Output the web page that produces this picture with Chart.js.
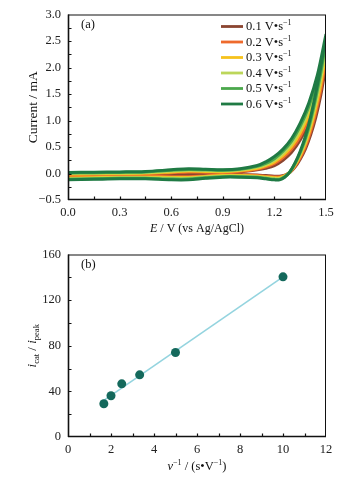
<!DOCTYPE html>
<html>
<head>
<meta charset="utf-8">
<script src="https://cdn.jsdelivr.net/npm/chart.js@4"></script>
<style>
html,body{margin:0;padding:0;background:#fff;}
canvas{display:block;}
</style>
</head>
<body>
<canvas id="cv" width="359" height="240"></canvas>
<canvas id="fit" width="359" height="242"></canvas>
<script>
// ---------- Panel (a): cyclic voltammograms ----------
const scanRates = ['0.1', '0.2', '0.3', '0.4', '0.5', '0.6'];
const cvColors = ['#8b4530', '#ee6a2c', '#f6c21c', '#bcd65a', '#4ba84c', '#1f7a44'];
const E_fwd = [0, 0.15, 0.3, 0.45, 0.6, 0.7, 0.8, 0.9, 1.0, 1.1, 1.15, 1.2, 1.25, 1.3, 1.35, 1.4, 1.45, 1.5];
const E_rev = [1.5, 1.47, 1.44, 1.41, 1.38, 1.35, 1.32, 1.29, 1.26, 1.23, 1.2, 1.15, 1.1, 1.0, 0.9, 0.8, 0.7, 0.6, 0.45, 0.3, 0.15, 0];

const fwd_01 = [-0.03,-0.025,-0.02,-0.01,0.00,0.01,0.01,0.01,0.03,0.07,0.10,0.15,0.25,0.40,0.63,0.95,1.40,2.05];
const fwd_02 = [-0.02,-0.015,-0.01,0.00,0.015,0.03,0.025,0.02,0.04,0.085,0.125,0.19,0.30,0.46,0.70,1.04,1.51,2.18];
const fwd_03 = [-0.01,-0.005,0.00,0.01,0.03,0.045,0.04,0.035,0.055,0.10,0.15,0.22,0.34,0.51,0.77,1.12,1.60,2.30];
const fwd_04 = [0.00,0.005,0.01,0.02,0.045,0.06,0.055,0.05,0.065,0.12,0.17,0.25,0.38,0.56,0.83,1.20,1.69,2.40];
const fwd_05 = [0.01,0.015,0.02,0.03,0.06,0.075,0.07,0.06,0.08,0.135,0.19,0.28,0.42,0.61,0.89,1.26,1.77,2.50];
const fwd_06 = [0.02,0.025,0.03,0.04,0.07,0.09,0.08,0.07,0.09,0.15,0.22,0.32,0.46,0.66,0.95,1.33,1.86,2.62];

const rev_01 = [2.05,1.48,1.05,0.72,0.46,0.27,0.12,0.02,-0.03,-0.05,-0.05,-0.04,-0.03,-0.02,-0.02,-0.03,-0.04,-0.04,-0.04,-0.05,-0.05,-0.06];
const rev_02 = [2.18,1.59,1.15,0.79,0.51,0.30,0.14,0.025,-0.04,-0.065,-0.065,-0.055,-0.04,-0.03,-0.03,-0.045,-0.06,-0.06,-0.055,-0.06,-0.065,-0.075];
const rev_03 = [2.30,1.70,1.24,0.86,0.56,0.34,0.16,0.03,-0.045,-0.08,-0.08,-0.065,-0.05,-0.04,-0.04,-0.055,-0.075,-0.075,-0.07,-0.07,-0.08,-0.09];
const rev_04 = [2.40,1.80,1.33,0.93,0.61,0.37,0.175,0.03,-0.055,-0.095,-0.095,-0.08,-0.06,-0.05,-0.05,-0.065,-0.09,-0.09,-0.08,-0.08,-0.09,-0.10];
const rev_05 = [2.50,1.90,1.42,0.99,0.65,0.395,0.19,0.03,-0.06,-0.11,-0.11,-0.09,-0.07,-0.06,-0.06,-0.08,-0.105,-0.105,-0.09,-0.09,-0.10,-0.11];
const rev_06 = [2.62,2.01,1.51,1.06,0.70,0.42,0.20,0.03,-0.07,-0.12,-0.12,-0.10,-0.08,-0.07,-0.07,-0.09,-0.12,-0.12,-0.10,-0.10,-0.11,-0.12];

const cvXTicks = [0, 0.3, 0.6, 0.9, 1.2, 1.5];
const cvYTicks = [-0.5, 0, 0.5, 1.0, 1.5, 2.0, 2.5, 3.0];

// ---------- Panel (b): i_cat / i_peak vs 1/v ----------
const invRate = [1.667, 2, 2.5, 3.333, 5, 10];
const ratio = [29.2, 36.2, 46.6, 54.5, 74.1, 140.4];
const fitX = [1.6, 10];
const fitY = [31.2, 140.4];
const fitXTicks = [0, 2, 4, 6, 8, 10, 12];
const fitYTicks = [0, 40, 80, 120, 160];

const SERIF = "'Liberation Serif', 'Times New Roman', serif";
const fwdSets = [fwd_01, fwd_02, fwd_03, fwd_04, fwd_05, fwd_06];
const revSets = [rev_01, rev_02, rev_03, rev_04, rev_05, rev_06];

function loop(f, r) {
  const pts = E_fwd.map((e, i) => ({x: e, y: f[i]}));
  return pts.concat(E_rev.slice(1).map((e, i) => ({x: e, y: r[i + 1]})));
}
function fmtMinus(s) { return String(s).replace('-', '\u2212'); }

function drawRuns(ctx, runs, x, y, align) {
  let total = 0;
  runs.forEach(r => { ctx.font = r.font; r.w = ctx.measureText(r.t).width; total += r.w; });
  let cx = align === 'center' ? x - total / 2 : x;
  runs.forEach(r => { ctx.font = r.font; ctx.fillText(r.t, cx, y + (r.dy || 0)); cx += r.w; });
}

function frameTicks(chart, minorX, minorY) {
  const ctx = chart.ctx, a = chart.chartArea;
  const xs = chart.scales.x, ys = chart.scales.y;
  ctx.save();
  ctx.strokeStyle = '#111';
  ctx.lineWidth = 1;
  ctx.strokeRect(a.left + 0.5, a.top + 0.5, a.right - a.left - 1, a.bottom - a.top - 1);
  ctx.lineWidth = 1.6;
  ctx.beginPath();
  ctx.moveTo(a.left + 0.5, a.top); ctx.lineTo(a.left + 0.5, a.bottom);
  ctx.moveTo(a.left, a.bottom - 0.5); ctx.lineTo(a.right, a.bottom - 0.5);
  ctx.stroke();
  ctx.lineWidth = 1.2;
  ctx.beginPath();
  minorX.forEach(v => {
    const px = Math.round(xs.getPixelForValue(v)) + 0.5;
    if (px <= a.left + 1 || px >= a.right - 1) return;
    ctx.moveTo(px, a.bottom); ctx.lineTo(px, a.bottom - 3.5);
  });
  minorY.forEach(v => {
    const py = Math.round(ys.getPixelForValue(v)) + 0.5;
    if (py <= a.top + 1 || py >= a.bottom - 1) return;
    ctx.moveTo(a.left, py); ctx.lineTo(a.left + 3.5, py);
  });
  ctx.stroke();
  ctx.restore();
}

function halfSteps(arr) {
  const out = [];
  for (let i = 0; i < arr.length; i++) {
    out.push(arr[i]);
    if (i < arr.length - 1) out.push((arr[i] + arr[i + 1]) / 2);
  }
  return out;
}

const cvDecor = {
  id: 'cvDecor',
  afterDraw(chart) {
    const ctx = chart.ctx, a = chart.chartArea;
    frameTicks(chart, halfSteps(cvXTicks), halfSteps(cvYTicks));
    ctx.save();
    ctx.fillStyle = '#111';
    ctx.textBaseline = 'middle';
    ctx.font = '12.5px ' + SERIF;
    ctx.fillText('(a)', 81, 25);
    chart.data.datasets.forEach((ds, i) => {
      const y = 26.5 + i * 15.5;
      ctx.strokeStyle = ds.borderColor;
      ctx.lineWidth = 2.8;
      ctx.beginPath(); ctx.moveTo(221, y); ctx.lineTo(243, y); ctx.stroke();
      drawRuns(ctx, [
        {t: scanRates[i] + ' V\u2022s', font: '12.5px ' + SERIF},
        {t: '\u22121', font: '8px ' + SERIF, dy: -4}
      ], 246, y + 0.5, 'left');
    });
    drawRuns(ctx, [
      {t: 'E', font: 'italic 12px ' + SERIF},
      {t: ' / V (vs Ag/AgCl)', font: '12px ' + SERIF}
    ], 197, 229, 'center');
    ctx.translate(33, (a.top + a.bottom) / 2);
    ctx.rotate(-Math.PI / 2);
    drawRuns(ctx, [{t: 'Current / mA', font: '13.5px ' + SERIF}], 0, 0, 'center');
    ctx.restore();
  }
};

const fitDecor = {
  id: 'fitDecor',
  afterDraw(chart) {
    const ctx = chart.ctx, a = chart.chartArea;
    frameTicks(chart, halfSteps(fitXTicks), halfSteps(fitYTicks));
    ctx.save();
    ctx.fillStyle = '#111';
    ctx.textBaseline = 'middle';
    ctx.font = '12.5px ' + SERIF;
    ctx.fillText('(b)', 81, 25);
    drawRuns(ctx, [
      {t: 'v', font: 'italic 12.5px ' + SERIF},
      {t: '\u22121', font: '8px ' + SERIF, dy: -4},
      {t: ' / (s\u2022V', font: '12.5px ' + SERIF},
      {t: '\u22121', font: '8px ' + SERIF, dy: -4},
      {t: ')', font: '12.5px ' + SERIF}
    ], 197, 227, 'center');
    ctx.translate(33, (a.top + a.bottom) / 2);
    ctx.rotate(-Math.PI / 2);
    drawRuns(ctx, [
      {t: 'i', font: 'italic 13px ' + SERIF},
      {t: 'cat', font: '8.5px ' + SERIF, dy: 4},
      {t: ' / ', font: '13px ' + SERIF},
      {t: 'i', font: 'italic 13px ' + SERIF},
      {t: 'peak', font: '8.5px ' + SERIF, dy: 4}
    ], 0, 0, 'center');
    ctx.restore();
  }
};

const tickFont = {family: SERIF, size: 12.5};

function setTicks(arr) {
  return function (scale) { scale.ticks = arr.map(v => ({value: v})); };
}
const noGrid = {display: false, drawTicks: false, tickLength: 0};

new Chart(document.getElementById('cv'), {
  type: 'scatter',
  data: {
    datasets: scanRates.map((r, i) => ({
      label: r + ' V\u2022s\u207B\u00B9',
      data: loop(fwdSets[i], revSets[i]),
      showLine: true,
      borderColor: cvColors[i],
      backgroundColor: cvColors[i],
      borderWidth: 3,
      pointRadius: 0,
      tension: 0.35,
      order: 6 - i
    }))
  },
  options: {
    responsive: false,
    animation: false,
    devicePixelRatio: 1,
    layout: {padding: {left: 0, right: 33, top: 10, bottom: 0}},
    plugins: {legend: {display: false}, tooltip: {enabled: false}},
    scales: {
      x: {
        type: 'linear', min: 0, max: 1.5,
        afterBuildTicks: setTicks(cvXTicks),
        afterFit(s) { s.height = 40; },
        grid: noGrid, border: {display: false},
        ticks: {font: tickFont, color: '#222', padding: 5, maxRotation: 0, autoSkip: false,
          callback: v => fmtMinus(Number(v).toFixed(1))}
      },
      y: {
        type: 'linear', min: -0.5, max: 3.0,
        afterBuildTicks: setTicks(cvYTicks),
        afterFit(s) { s.width = 68; },
        grid: noGrid, border: {display: false},
        ticks: {font: tickFont, color: '#222', padding: 7, autoSkip: false,
          callback: v => fmtMinus(Number(v).toFixed(1))}
      }
    }
  },
  plugins: [cvDecor]
});

new Chart(document.getElementById('fit'), {
  type: 'scatter',
  data: {
    datasets: [
      {
        label: 'data',
        data: invRate.map((x, i) => ({x: x, y: ratio[i]})),
        pointRadius: 4.5,
        pointBackgroundColor: '#14695c',
        pointBorderColor: '#14695c',
        pointBorderWidth: 0,
        order: 0
      },
      {
        label: 'fit',
        data: fitX.map((x, i) => ({x: x, y: fitY[i]})),
        showLine: true,
        borderColor: '#94d4df',
        borderWidth: 1.6,
        pointRadius: 0,
        order: 1
      }
    ]
  },
  options: {
    responsive: false,
    animation: false,
    devicePixelRatio: 1,
    layout: {padding: {left: 0, right: 33, top: 7, bottom: 0}},
    plugins: {legend: {display: false}, tooltip: {enabled: false}},
    scales: {
      x: {
        type: 'linear', min: 0, max: 12,
        afterBuildTicks: setTicks(fitXTicks),
        afterFit(s) { s.height = 45; },
        grid: noGrid, border: {display: false},
        ticks: {font: tickFont, color: '#222', padding: 5, maxRotation: 0, autoSkip: false,
          callback: v => String(v)}
      },
      y: {
        type: 'linear', min: 0, max: 160,
        afterBuildTicks: setTicks(fitYTicks),
        afterFit(s) { s.width = 68; },
        grid: noGrid, border: {display: false},
        ticks: {font: tickFont, color: '#222', padding: 7, autoSkip: false,
          callback: v => String(v)}
      }
    }
  },
  plugins: [fitDecor]
});
</script>
</body>
</html>
